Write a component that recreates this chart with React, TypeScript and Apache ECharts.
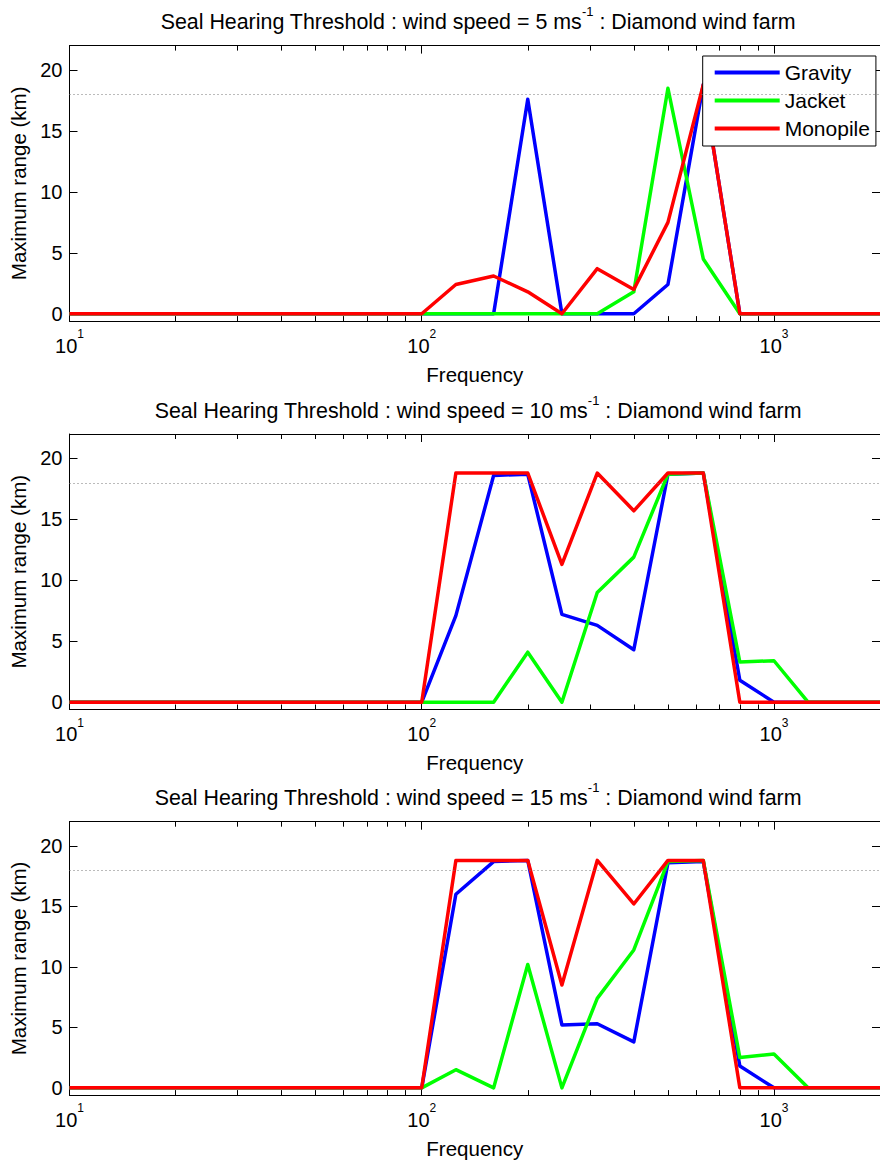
import { useEffect, useRef } from "react";
import * as echarts from "echarts";

// ---- data ----
const FREQUENCIES = [10, 12.5, 16, 20, 25, 31.5, 40, 50, 63, 80, 100, 125, 160, 200, 250, 315, 400, 500, 630, 800, 1000, 1250, 1600, 2000];
const WIND_SPEEDS = [5, 10, 15];
const SERIES_NAMES = ["Gravity", "Jacket", "Monopile"];

const GRAVITY_5 = [0, 0, 0, 0, 0, 0, 0, 0, 0, 0, 0, 0, 0, 17.6, 0, 0, 0, 2.4, 18.8, 0, 0, 0, 0, 0];
const JACKET_5 = [0, 0, 0, 0, 0, 0, 0, 0, 0, 0, 0, 0, 0, 0, 0, 0, 1.8, 18.5, 4.5, 0, 0, 0, 0, 0];
const MONOPILE_5 = [0, 0, 0, 0, 0, 0, 0, 0, 0, 0, 0, 2.4, 3.1, 1.8, 0, 3.7, 2.0, 7.5, 18.8, 0, 0, 0, 0, 0];

const GRAVITY_10 = [0, 0, 0, 0, 0, 0, 0, 0, 0, 0, 0, 7.1, 18.6, 18.7, 7.2, 6.3, 4.3, 18.7, 18.8, 1.8, 0, 0, 0, 0];
const JACKET_10 = [0, 0, 0, 0, 0, 0, 0, 0, 0, 0, 0, 0, 0, 4.1, 0, 9.0, 11.9, 18.7, 18.8, 3.3, 3.4, 0, 0, 0];
const MONOPILE_10 = [0, 0, 0, 0, 0, 0, 0, 0, 0, 0, 0, 18.8, 18.8, 18.8, 11.3, 18.8, 15.7, 18.8, 18.8, 0, 0, 0, 0, 0];

const GRAVITY_15 = [0, 0, 0, 0, 0, 0, 0, 0, 0, 0, 0, 16.0, 18.7, 18.8, 5.2, 5.3, 3.8, 18.6, 18.7, 1.8, 0, 0, 0, 0];
const JACKET_15 = [0, 0, 0, 0, 0, 0, 0, 0, 0, 0, 0, 1.5, 0, 10.2, 0, 7.4, 11.4, 18.7, 18.8, 2.5, 2.8, 0, 0, 0];
const MONOPILE_15 = [0, 0, 0, 0, 0, 0, 0, 0, 0, 0, 0, 18.8, 18.8, 18.8, 8.5, 18.8, 15.2, 18.8, 18.8, 0, 0, 0, 0, 0];

const PANEL_VALUES = [
  [GRAVITY_5, JACKET_5, MONOPILE_5],
  [GRAVITY_10, JACKET_10, MONOPILE_10],
  [GRAVITY_15, JACKET_15, MONOPILE_15],
];

const THRESHOLD_KM = 18;
const Y_TICKS = [0, 5, 10, 15, 20];
const X_MINOR_TICKS = [20, 30, 40, 50, 60, 70, 80, 90, 200, 300, 400, 500, 600, 700, 800, 900];

// ---- layout / style ----
const X_MIN = 10;
const X_MAX = 2000;
const Y_MIN = -0.6;
const Y_MAX = 22;
const COLORS = ["#0000ff", "#00ff00", "#ff0000"];
const FONT = '"Liberation Sans", Arial, Helvetica, sans-serif';
const GRID_LEFT = 69.5;
const GRID_WIDTH = 817;
const GRID_HEIGHT = 275.5;
const GRID_TOPS = [45.6, 434, 821.7];

function buildOption() {
  const grid = GRID_TOPS.map((top) => ({
    left: GRID_LEFT,
    top,
    width: GRID_WIDTH,
    height: GRID_HEIGHT,
    containLabel: false,
  }));

  const black = { color: "#000", width: 1 };
  const xAxis: any[] = [];
  const yAxis: any[] = [];
  const series: any[] = [];

  const logFormatter = (v: number) => {
    const e = Math.log10(v);
    const r = Math.round(e);
    return Math.abs(e - r) < 1e-6 ? `10{sup|${r}}` : "";
  };

  GRID_TOPS.forEach((_, p) => {
    // bottom main log axis (data axis)
    xAxis.push({
      type: "log",
      logBase: 10,
      gridIndex: p,
      position: "bottom",
      min: X_MIN,
      max: X_MAX,
      name: "Frequency",
      nameLocation: "middle",
      nameGap: 36,
      nameTextStyle: { fontSize: 20.5, lineHeight: 20, color: "#000", fontFamily: FONT },
      axisLine: { show: true, onZero: false, lineStyle: black },
      axisTick: { show: true, inside: true, length: 8, lineStyle: black },
      minorTick: { show: false },
      splitLine: { show: false },
      axisLabel: {
        show: true,
        showMinLabel: true,
        showMaxLabel: false,
        formatter: logFormatter,
        margin: 7,
        fontSize: 20,
        lineHeight: 35,
        color: "#000",
        fontFamily: FONT,
        rich: {
          sup: { fontSize: 12, lineHeight: 12, verticalAlign: "top", color: "#000", fontFamily: FONT },
        },
      },
    });
    // bottom minor ticks (log10 space)
    xAxis.push({
      type: "value",
      gridIndex: p,
      position: "bottom",
      min: Math.log10(X_MIN),
      max: Math.log10(X_MAX),
      axisLine: { show: false, onZero: false },
      axisTick: { show: true, inside: true, length: 5, lineStyle: black, customValues: X_MINOR_TICKS.map((f) => Math.log10(f)) },
      axisLabel: { show: false },
      splitLine: { show: false },
    });
    // top major
    xAxis.push({
      type: "log",
      logBase: 10,
      gridIndex: p,
      position: "top",
      min: X_MIN,
      max: X_MAX,
      axisLine: { show: true, onZero: false, lineStyle: black },
      axisTick: { show: true, inside: true, length: 8, lineStyle: black },
      minorTick: { show: false },
      axisLabel: { show: false },
      splitLine: { show: false },
    });
    // top minor
    xAxis.push({
      type: "value",
      gridIndex: p,
      position: "top",
      min: Math.log10(X_MIN),
      max: Math.log10(X_MAX),
      axisLine: { show: false, onZero: false },
      axisTick: { show: true, inside: true, length: 5, lineStyle: black, customValues: X_MINOR_TICKS.map((f) => Math.log10(f)) },
      axisLabel: { show: false },
      splitLine: { show: false },
    });

    yAxis.push({
      type: "value",
      gridIndex: p,
      position: "left",
      min: Y_MIN,
      max: Y_MAX,
      name: "Maximum range (km)",
      nameLocation: "middle",
      nameGap: 38,
      nameTextStyle: { fontSize: 20.5, lineHeight: 21, color: "#000", fontFamily: FONT },
      axisLine: { show: true, onZero: false, lineStyle: black },
      axisTick: { show: true, inside: true, length: 8, lineStyle: black, customValues: Y_TICKS },
      axisLabel: {
        show: true,
        customValues: Y_TICKS,
        showMinLabel: true,
        showMaxLabel: true,
        margin: 7,
        fontSize: 20,
        color: "#000",
        fontFamily: FONT,
      },
      splitLine: { show: false },
    });
    yAxis.push({
      type: "value",
      gridIndex: p,
      position: "right",
      min: Y_MIN,
      max: Y_MAX,
      axisLine: { show: true, onZero: false, lineStyle: black },
      axisTick: { show: true, inside: true, length: 8, lineStyle: black, customValues: Y_TICKS },
      axisLabel: { show: false },
      splitLine: { show: false },
    });

    PANEL_VALUES[p].forEach((vals, s) => {
      series.push({
        type: "line",
        name: SERIES_NAMES[s],
        xAxisIndex: p * 4,
        yAxisIndex: p * 2,
        data: FREQUENCIES.map((f, i) => [f, vals[i]]),
        symbol: "none",
        showSymbol: false,
        color: COLORS[s],
        itemStyle: { color: COLORS[s] },
        lineStyle: { width: 3.5, color: COLORS[s], join: "round" },
        emphasis: { disabled: true },
        silent: true,
        clip: true,
        markLine:
          s === 0
            ? {
                silent: true,
                symbol: ["none", "none"],
                label: { show: false },
                emphasis: { disabled: true },
                lineStyle: { color: "#777", width: 1, type: [1, 3] },
                data: [{ yAxis: THRESHOLD_KM }],
              }
            : undefined,
      });
    });
  });

  const title = WIND_SPEEDS.map((speed, p) => ({
    text: `Seal Hearing Threshold : wind speed = ${speed} ms{sup|-1} : Diamond wind farm`,
    left: GRID_LEFT + GRID_WIDTH / 2,
    top: GRID_TOPS[p] - 23.5,
    textAlign: "center",
    textVerticalAlign: "middle",
    padding: 0,
    textStyle: {
      fontSize: 21.4,
      fontWeight: "normal",
      color: "#000",
      fontFamily: FONT,
      lineHeight: 34,
      rich: {
        sup: { fontSize: 13, lineHeight: 13, verticalAlign: "top", color: "#000", fontFamily: FONT },
      },
    },
  }));

  return {
    animation: false,
    backgroundColor: "#fff",
    title,
    grid,
    xAxis,
    yAxis,
    series,
    legend: {
      data: SERIES_NAMES,
      orient: "vertical",
      left: 702.7,
      top: 56,
      padding: [6, 6, 7, 12],
      itemGap: 7,
      itemWidth: 65,
      itemHeight: 4,
      icon: "rect",
      borderColor: "#000",
      borderWidth: 1,
      borderRadius: 0,
      backgroundColor: "#fff",
      selectedMode: false,
      textStyle: { fontSize: 21, lineHeight: 21, color: "#000", fontFamily: FONT },
    },
  };
}

export default function App() {
  const ref = useRef<HTMLDivElement>(null);
  useEffect(() => {
    document.body.style.margin = "0";
    if (!ref.current) return;
    const chart = echarts.init(ref.current, undefined, { renderer: "svg" });
    chart.setOption(buildOption() as any);
    return () => chart.dispose();
  }, []);
  return <div ref={ref} style={{ position: "absolute", left: 0, top: 0, width: 880, height: 1160 }} />;
}
